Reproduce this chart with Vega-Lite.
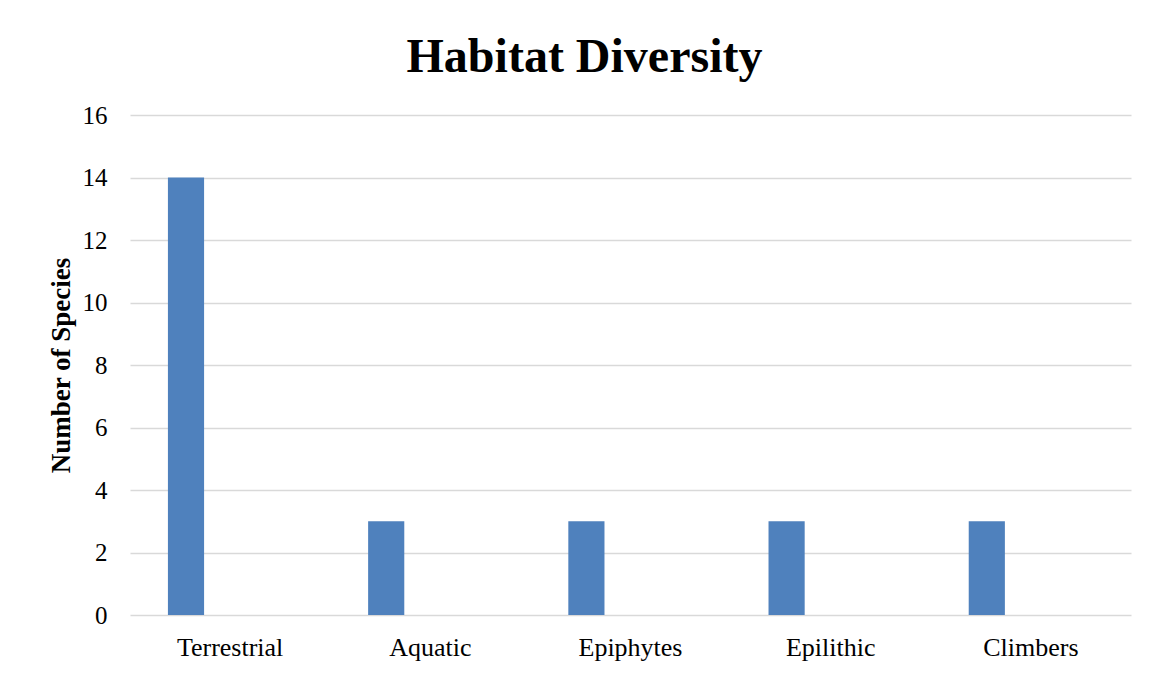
{
  "$schema": "https://vega.github.io/schema/vega-lite/v6.json",
  "autosize": {"type": "none"},
  "padding": {"left": 130, "top": 115, "right": 19, "bottom": 58},
  "width": 1001,
  "height": 500,
  "background": "white",
  "title": {
    "text": "Habitat Diversity",
    "font": "Liberation Serif",
    "fontSize": 48,
    "fontWeight": "bold",
    "color": "#000000",
    "anchor": "middle",
    "baseline": "alphabetic",
    "dx": -46,
    "dy": 60,
    "offset": 43
  },
  "data": {
    "values": [
      {"habitat": "Terrestrial", "series": "Number of Species", "species": 14},
      {"habitat": "Aquatic", "series": "Number of Species", "species": 3},
      {"habitat": "Epiphytes", "series": "Number of Species", "species": 3},
      {"habitat": "Epilithic", "series": "Number of Species", "species": 3},
      {"habitat": "Climbers", "series": "Number of Species", "species": 3}
    ]
  },
  "mark": {"type": "bar", "color": "#4f81bd"},
  "encoding": {
    "x": {
      "field": "habitat",
      "type": "nominal",
      "sort": ["Terrestrial", "Aquatic", "Epiphytes", "Epilithic", "Climbers"],
      "scale": {"paddingInner": 0, "paddingOuter": 0},
      "axis": {
        "title": null,
        "labelAngle": 0,
        "labelFont": "Liberation Serif",
        "labelFontSize": 26,
        "labelColor": "#000000",
        "labelPadding": 19,
        "ticks": false,
        "domain": false
      }
    },
    "xOffset": {
      "field": "series",
      "type": "nominal",
      "scale": {"domain": ["Number of Species", "(blank)"], "paddingInner": 0.59, "paddingOuter": 0.43}
    },
    "y": {
      "field": "species",
      "type": "quantitative",
      "scale": {"domain": [0, 16], "nice": false},
      "axis": {
        "title": "Number of Species",
        "titleFont": "Liberation Serif",
        "titleFontSize": 27,
        "titleFontWeight": "bold",
        "titleColor": "#000000",
        "titleAngle": -90,
        "titleAlign": "center",
        "titleBaseline": "middle",
        "titleX": -69,
        "titleY": 250,
        "values": [0, 2, 4, 6, 8, 10, 12, 14, 16],
        "labelFont": "Liberation Serif",
        "labelFontSize": 25,
        "labelColor": "#000000",
        "labelPadding": 23,
        "ticks": false,
        "domain": false,
        "grid": true,
        "gridColor": "#d9d9d9",
        "gridWidth": 1.3
      }
    }
  },
  "config": {
    "view": {"stroke": null}
  }
}
